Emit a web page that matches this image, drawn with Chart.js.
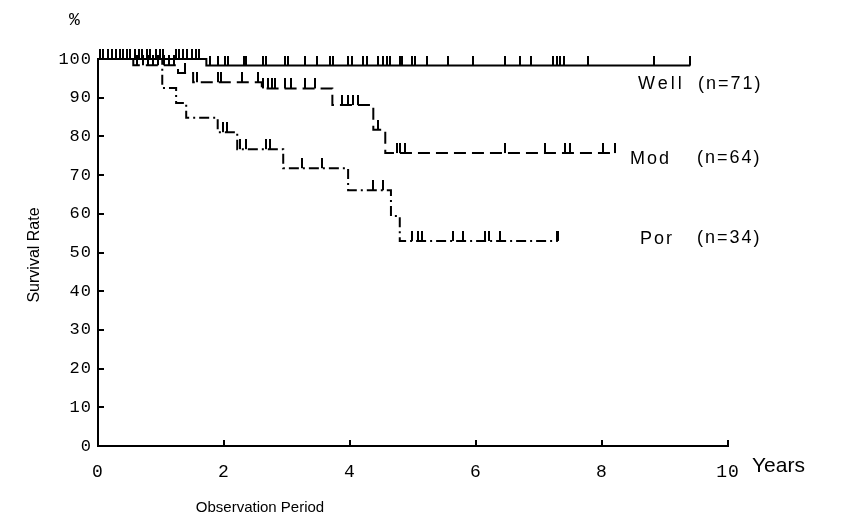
<!DOCTYPE html>
<html><head><meta charset="utf-8">
<script src="https://cdn.jsdelivr.net/npm/chart.js@4.4.0/dist/chart.umd.min.js"></script>
<style>html,body{margin:0;padding:0;background:#fff}#c{display:block}</style>
</head><body>
<canvas id="c" width="841" height="521"></canvas>
<script>
// ---- tick labels ----
const xTickLabels = ['0', '2', '4', '6', '8', '10'];
const yTickLabels = ['0', '10', '20', '30', '40', '50', '60', '70', '80', '90', '100'];

// ---- Well (n=71) ----
const wellTimes = [0, 1.72];
const wellSurv = [100, 98.3];
const wellEnd = 9.40;
const wellCensored = [0.03, 0.08, 0.16, 0.22, 0.29, 0.35, 0.40, 0.46, 0.51, 0.59, 0.65, 0.70, 0.77, 0.83, 0.92, 0.98, 1.03,
  1.24, 1.29, 1.35, 1.42, 1.49, 1.56, 1.61,
  1.78, 1.91, 2.02, 2.07, 2.31, 2.35, 2.62, 2.67, 2.97, 3.02, 3.29, 3.47, 3.68, 3.73, 3.97, 4.03, 4.21, 4.27,
  4.45, 4.53, 4.58, 4.63, 4.79, 4.82, 4.98, 5.03, 5.22, 5.56, 5.96, 6.46, 6.70, 6.88, 7.23, 7.28, 7.33, 7.39,
  7.78, 8.83, 9.40];

// ---- Mod (n=64) ----
const modTimes = [0, 0.56, 1.27, 1.51, 2.60, 3.72, 4.37, 4.56];
const modSurv = [100, 98.4, 96.4, 94.0, 92.4, 88.1, 81.7, 75.7];
const modEnd = 8.21;
const modCensored = [0.62, 0.72, 0.80, 0.88, 0.96, 1.04, 1.12, 1.20, 1.38, 1.57, 1.91, 1.96, 2.28, 2.54,
  2.62, 2.70, 2.76, 2.81, 2.97, 3.07, 3.29, 3.44, 3.87, 3.97, 4.05, 4.13, 4.45, 4.74, 4.79, 4.87,
  6.46, 7.10, 7.41, 7.49, 8.02, 8.21];

// ---- Por (n=34) ----
const porTimes = [0, 1.02, 1.24, 1.40, 1.90, 2.21, 2.94, 3.97, 4.65, 4.79];
const porSurv = [100, 92.5, 88.6, 84.8, 81.1, 76.7, 71.8, 66.1, 59.4, 53.0];
const porEnd = 7.30;
const porCensored = [1.98, 2.05, 2.25, 2.35, 2.67, 2.73, 3.24, 3.56, 4.37, 4.52, 4.98, 5.08, 5.14,
  5.64, 5.80, 6.14, 6.20, 6.38, 7.28, 7.30];

function kmPoints(times, surv, end) {
  const pts = times.map((t, i) => ({ x: t, y: surv[i] }));
  pts.push({ x: end, y: surv[surv.length - 1] });
  return pts;
}
function survAt(times, surv, t) {
  let v = surv[0];
  for (let i = 0; i < times.length; i++) if (times[i] <= t) v = surv[i];
  return v;
}
function censorPoints(times, surv, cens) {
  return cens.map(t => ({ x: t, y: survAt(times, surv, t) }));
}

// vertical censor tick rising from the curve
const tickImg = document.createElement('canvas');
tickImg.width = 2; tickImg.height = 20;
(function () { const c = tickImg.getContext('2d'); c.fillStyle = '#000'; c.fillRect(0, 0, 2, 10); })();

function lineDs(pts, dash) {
  return { data: pts, showLine: true, stepped: 'before', borderColor: '#000', borderWidth: 2,
    borderDash: dash, pointRadius: 0, fill: false, clip: false };
}
function censDs(pts) {
  return { data: pts, showLine: false, pointStyle: tickImg, pointRadius: 5, clip: false };
}

const textPlugin = {
  id: 'texts',
  beforeDraw(chart) { chart.ctx.letterSpacing = '1px'; },
  beforeDatasetsDraw(chart) { chart.ctx.letterSpacing = '0px'; },
  afterDraw(chart) {
    const ctx = chart.ctx;
    const xs = chart.scales.x, ys = chart.scales.y;
    ctx.save();
    ctx.strokeStyle = '#000'; ctx.lineWidth = 2;
    // inward tick marks
    ys.ticks.forEach(t => {
      if (t.value === 0 || t.value === 100) return;
      const y = Math.round(ys.getPixelForValue(t.value));
      ctx.beginPath(); ctx.moveTo(xs.left, y); ctx.lineTo(xs.left + 6, y); ctx.stroke();
    });
    xs.ticks.forEach(t => {
      if (t.value === 0) return;
      const x = Math.round(xs.getPixelForValue(t.value));
      ctx.beginPath(); ctx.moveTo(x, ys.bottom); ctx.lineTo(x, ys.bottom - 6); ctx.stroke();
    });
    ctx.fillStyle = '#000';
    ctx.textBaseline = 'middle';
    function txt(s, x, y, font, sp, align) {
      ctx.font = font; ctx.letterSpacing = sp; ctx.textAlign = align || 'left';
      ctx.fillText(s, x, y);
    }
    txt('%', 69, 20, '18px "Liberation Mono"', '0px');
    txt('Years', 752, 466, '21px "Liberation Sans"', '0px');
    txt('Observation Period', 260, 508, '15px "Liberation Sans"', '0px', 'center');
    txt('Well', 638, 84, '18px "Liberation Sans"', '3px');
    txt('(n=71)', 698, 84, '18px "Liberation Sans"', '2px');
    txt('Mod', 630, 159, '18px "Liberation Sans"', '2px');
    txt('(n=64)', 697, 158, '18px "Liberation Sans"', '2px');
    txt('Por', 640, 239, '18px "Liberation Sans"', '2px');
    txt('(n=34)', 697, 238, '18px "Liberation Sans"', '2px');
    ctx.save();
    ctx.translate(35, 255); ctx.rotate(-Math.PI / 2);
    txt('Survival Rate', 0, 0, '16px "Liberation Sans"', '0px', 'center');
    ctx.restore();
    ctx.restore();
  }
};

new Chart(document.getElementById('c').getContext('2d'), {
  type: 'scatter',
  data: {
    datasets: [
      lineDs(kmPoints(wellTimes, wellSurv, wellEnd), []),
      lineDs(kmPoints(modTimes, modSurv, modEnd), [12, 6]),
      lineDs(kmPoints(porTimes, porSurv, porEnd), [10, 4, 2, 4]),
      censDs(censorPoints(wellTimes, wellSurv, wellCensored)),
      censDs(censorPoints(modTimes, modSurv, modCensored)),
      censDs(censorPoints(porTimes, porSurv, porCensored))
    ]
  },
  options: {
    responsive: false, animation: false, devicePixelRatio: 1,
    layout: { padding: { left: 0, top: 59, right: 113, bottom: 0 } },
    plugins: { legend: { display: false }, tooltip: { enabled: false } },
    scales: {
      x: {
        type: 'linear', min: 0, max: 10,
        afterFit: s => { s.height = 75; },
        grid: { display: false, drawTicks: false },
        border: { display: true, color: '#000', width: 2 },
        ticks: { stepSize: 2, color: '#000', padding: 15, maxRotation: 0, autoSkip: false,
          font: { family: 'Liberation Mono', size: 18 },
          callback: (v, i) => xTickLabels[i] }
      },
      y: {
        type: 'linear', min: 0, max: 100,
        afterFit: s => { s.width = 98; },
        grid: { display: false, drawTicks: false },
        border: { display: true, color: '#000', width: 2 },
        ticks: { stepSize: 10, color: '#000', padding: 6, autoSkip: false,
          font: { family: 'Liberation Mono', size: 17 },
          callback: (v, i) => yTickLabels[i] }
      }
    }
  },
  plugins: [textPlugin]
});
</script>
</body></html>
